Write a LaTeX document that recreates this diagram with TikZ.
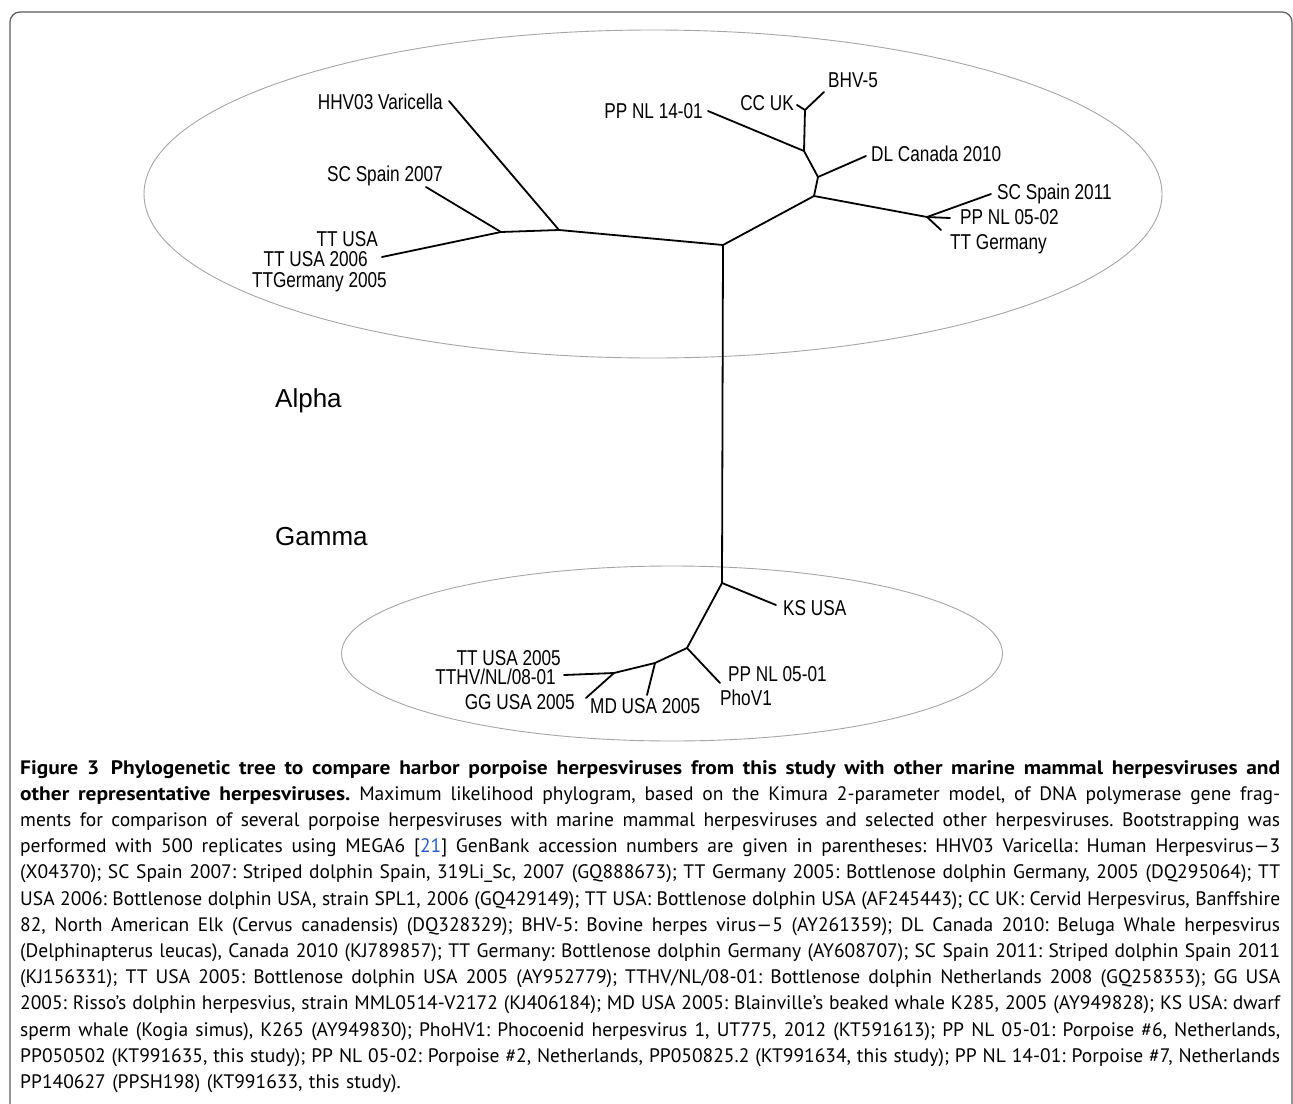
\documentclass[tikz,border=0pt]{standalone}
\usepackage{fontspec}
\newfontfamily\treefont[FakeStretch=0.8]{Liberation Sans}
\newfontfamily\cladefont{Liberation Sans}
\newfontfamily\capfont[BoldFeatures={FakeStretch=1.1}]{PT Sans}
\definecolor{framegray}{RGB}{90,90,90}
\definecolor{ovalgray}{RGB}{165,165,165}
\definecolor{citeblue}{RGB}{40,90,200}
\newcommand{\capline}[1]{\leavevmode{\spaceskip=0.24em plus 3em minus 0.09em\hbox to 1260pt{#1}}}

\begin{document}
\begin{tikzpicture}[x=1pt, y=-1pt,
		branch/.style={black, line width=1.8pt, line cap=round, line join=round},
		oval/.style={ovalgray, line width=0.9pt},
		leaf/.style={inner sep=0pt, text height=15.4pt, text depth=0pt,
			font=\treefont\fontsize{21.5}{24}\selectfont},
		clade/.style={inner sep=0pt, text height=18.6pt, text depth=0pt,
			font=\cladefont\fontsize{26}{30}\selectfont},
		captext/.style={inner sep=0pt, text width=1260pt, align=left,
			font=\capfont\frenchspacing\fontsize{19.5}{26.2}\selectfont}]
	
	\useasboundingbox (0,0) rectangle (1293,1103);
	
	% frame and the two groups
	\draw[framegray, line width=1.2pt, rounded corners=10pt]
	(10,1130) -- (10,12) -- (1292,12) -- (1292,1130);
	\draw[oval] (653,194) ellipse [x radius=509, y radius=164];
	\draw[oval] (672,653.5) ellipse [x radius=330.5, y radius=87.5];
	
	% inner nodes
	\coordinate (r0) at (723,245);
	\coordinate (a1) at (559,230);
	\coordinate (a2) at (501,232);
	\coordinate (b1) at (814,196);
	\coordinate (b2) at (927,217);
	\coordinate (b3) at (818,177);
	\coordinate (b4) at (804,151);
	\coordinate (b5) at (805,110);
	\coordinate (g0) at (722,583);
	\coordinate (g1) at (687,648);
	\coordinate (g2) at (655,663);
	\coordinate (g3) at (614,673);
	
	% tips
	\coordinate (hhv-t) at (449,101);
	\coordinate (sc07-t) at (426,187);
	\coordinate (ttusa-t) at (382,257);
	\coordinate (sc11-t) at (991,194);
	\coordinate (pp0502-t) at (950,218);
	\coordinate (ttger-t) at (941,230);
	\coordinate (dl-t) at (866,156);
	\coordinate (pp1401-t) at (708,111);
	\coordinate (bhv-t) at (824,92);
	\coordinate (ccuk-t) at (797,105);
	\coordinate (ks-t) at (776,605);
	\coordinate (pp0501-t) at (720,683);
	\coordinate (md-t) at (647,695);
	\coordinate (gg-t) at (586,698);
	\coordinate (tt05-t) at (564,675);
	
	% branches
	\draw[branch] (hhv-t) -- (a1) -- (r0) -- (g0);
	\draw[branch] (a1) -- (a2) -- (ttusa-t);
	\draw[branch] (a2) -- (sc07-t);
	\draw[branch] (r0) -- (b1) -- (b2) -- (sc11-t);
	\draw[branch] (b2) -- (pp0502-t);
	\draw[branch] (b2) -- (ttger-t);
	\draw[branch] (b1) -- (b3) -- (dl-t);
	\draw[branch] (b3) -- (b4) -- (pp1401-t);
	\draw[branch] (b4) -- (b5) -- (bhv-t);
	\draw[branch] (b5) -- (ccuk-t);
	\draw[branch] (g0) -- (ks-t);
	\draw[branch] (g0) -- (g1) -- (pp0501-t);
	\draw[branch] (g1) -- (g2) -- (md-t);
	\draw[branch] (g2) -- (g3) -- (gg-t);
	\draw[branch] (g3) -- (tt05-t);
	
	% alpha labels
	\node[leaf, anchor=east] (hhv) at (443,102) {HHV03 Varicella};
	\node[leaf, anchor=east] (sc07) at (443,174) {SC Spain 2007};
	\node[leaf, anchor=east] (ttusa) at (378,239) {TT USA};
	\node[leaf, anchor=east] (ttusa06) at (368,259) {TT USA 2006};
	\node[leaf, anchor=east] (ttger05) at (387,280) {TTGermany 2005};
	\node[leaf, anchor=east] (pp1401) at (703,111) {PP NL 14-01};
	\node[leaf, anchor=east] (ccuk) at (794,103) {CC UK};
	\node[leaf, anchor=west] (bhv) at (828,80) {BHV-5};
	\node[leaf, anchor=west] (dl) at (871,154) {DL Canada 2010};
	\node[leaf, anchor=west] (sc11) at (997,192) {SC Spain 2011};
	\node[leaf, anchor=west] (pp0502) at (960,217) {PP NL 05-02};
	\node[leaf, anchor=west] (ttger) at (950,242) {TT Germany};
	
	% gamma labels
	\node[leaf, anchor=west] (ks) at (783,608) {KS USA};
	\node[leaf, anchor=west] (pp0501) at (728,674) {PP NL 05-01};
	\node[leaf, anchor=west] (phov) at (720,698) {PhoV1};
	\node[leaf, anchor=west] (md) at (590,706) {MD USA 2005};
	\node[leaf, anchor=east] (gg) at (575,702) {GG USA 2005};
	\node[leaf, anchor=east] (tt05) at (561,658) {TT USA 2005};
	\node[leaf, anchor=east] (tthv) at (556,677) {TTHV/NL/08-01};
	
	\node[clade, anchor=west] (alpha) at (275,398) {Alpha};
	\node[clade, anchor=west] (gamma) at (275,536) {Gamma};
	
	% caption
	\node[captext, anchor=north west] (caption) at (20,760) {%
		\capline{\textbf{Figure 3\hspace{0.6em}Phylogenetic tree to compare harbor porpoise herpesviruses from this study with other marine mammal herpesviruses and}}\\
		\capline{\textbf{other representative herpesviruses.} Maximum likelihood phylogram, based on the Kimura 2-parameter model, of DNA polymerase gene frag-}\\
		\capline{ments for comparison of several porpoise herpesviruses with marine mammal herpesviruses and selected other herpesviruses. Bootstrapping was}\\
		\capline{performed with 500 replicates using MEGA6 [{\color{citeblue}21}] GenBank accession numbers are given in parentheses: HHV03 Varicella: Human Herpesvirus—3}\\
		\capline{(X04370); SC Spain 2007: Striped dolphin Spain, 319Li\_Sc, 2007 (GQ888673); TT Germany 2005: Bottlenose dolphin Germany, 2005 (DQ295064); TT}\\
		\capline{USA 2006: Bottlenose dolphin USA, strain SPL1, 2006 (GQ429149); TT USA: Bottlenose dolphin USA (AF245443); CC UK: Cervid Herpesvirus, Banffshire}\\
		\capline{82, North American Elk (Cervus canadensis) (DQ328329); BHV-5: Bovine herpes virus—5 (AY261359); DL Canada 2010: Beluga Whale herpesvirus}\\
		\capline{(Delphinapterus leucas), Canada 2010 (KJ789857); TT Germany: Bottlenose dolphin Germany (AY608707); SC Spain 2011: Striped dolphin Spain 2011}\\
		\capline{(KJ156331); TT USA 2005: Bottlenose dolphin USA 2005 (AY952779); TTHV/NL/08-01: Bottlenose dolphin Netherlands 2008 (GQ258353); GG USA}\\
		\capline{2005: Risso’s dolphin herpesvius, strain MML0514-V2172 (KJ406184); MD USA 2005: Blainville’s beaked whale K285, 2005 (AY949828); KS USA: dwarf}\\
		\capline{sperm whale (Kogia simus), K265 (AY949830); PhoHV1: Phocoenid herpesvirus 1, UT775, 2012 (KT591613); PP NL 05-01: Porpoise \#6, Netherlands,}\\
		\capline{PP050502 (KT991635, this study); PP NL 05-02: Porpoise \#2, Netherlands, PP050825.2 (KT991634, this study); PP NL 14-01: Porpoise \#7, Netherlands}\\
		PP140627 (PPSH198) (KT991633, this study).};
	
\end{tikzpicture}
\end{document}
